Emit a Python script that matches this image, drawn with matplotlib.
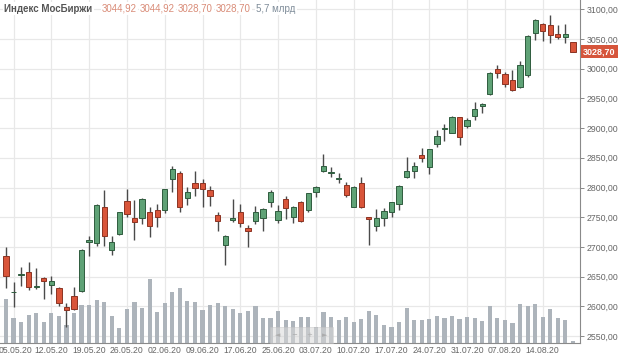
import matplotlib
matplotlib.use("Agg")
import matplotlib.pyplot as plt
from matplotlib.transforms import blended_transform_factory, ScaledTranslation
from matplotlib.patches import Rectangle
import numpy as np

plt.rcParams['font.family'] = ['Liberation Sans', 'DejaVu Sans']

# ---------------- data ----------------
opens = [2685, 2624, 2652, 2658, 2632, 2648, 2636, 2631, 2598, 2617,
         2625, 2708, 2707, 2768, 2694, 2722, 2778, 2748, 2748, 2759,
         2762, 2762, 2814, 2824, 2782, 2808, 2807, 2796, 2754, 2704,
         2745, 2758, 2732, 2744, 2748, 2776, 2745, 2781, 2750, 2775,
         2762, 2792, 2827, 2824, 2815, 2805, 2768, 2807, 2750, 2735,
         2748, 2759, 2773, 2818, 2827, 2855, 2835, 2873, 2899, 2892,
         2918, 2904, 2920, 2938, 2957, 2999, 2991, 2981, 2970, 2989,
         3060, 3075, 3074, 3058, 3053, 3044.92]
highs = [2700, 2641, 2666, 2674, 2665, 2650, 2651, 2633, 2606, 2633,
         2696, 2719, 2772, 2795, 2718, 2759, 2797, 2779, 2782, 2767,
         2773, 2797, 2836, 2827, 2801, 2827, 2814, 2803, 2759, 2720,
         2780, 2772, 2737, 2769, 2765, 2795, 2770, 2785, 2769, 2777,
         2791, 2803, 2856, 2835, 2824, 2810, 2803, 2818, 2750, 2763,
         2765, 2776, 2804, 2851, 2843, 2866, 2864, 2897, 2907, 2920,
         2919, 2917, 2944, 2942, 2995, 3006, 2994, 2998, 3013, 3056,
         3083, 3077, 3090, 3074, 3075, 3044.92]
lows = [2630, 2599, 2634, 2627, 2629, 2613, 2621, 2600, 2565, 2594,
        2624, 2685, 2701, 2702, 2686, 2720, 2751, 2712, 2739, 2716,
        2733, 2757, 2793, 2758, 2771, 2785, 2767, 2769, 2726, 2670,
        2742, 2734, 2700, 2739, 2726, 2767, 2741, 2747, 2740, 2742,
        2759, 2784, 2826, 2817, 2808, 2784, 2767, 2765, 2703, 2726,
        2735, 2751, 2762, 2816, 2816, 2843, 2823, 2869, 2878, 2891,
        2872, 2901, 2914, 2925, 2955, 2984, 2969, 2963, 2968, 2986,
        3049, 3047, 3043, 3050, 3043, 3028.70]
closes = [2651, 2624, 2655, 2633, 2634, 2643, 2643, 2606, 2594, 2595,
          2695, 2712, 2771, 2718, 2709, 2758, 2755, 2742, 2780, 2735,
          2751, 2797, 2832, 2768, 2793, 2799, 2798, 2786, 2744, 2718,
          2748, 2741, 2727, 2759, 2763, 2793, 2760, 2765, 2768, 2744,
          2790, 2801, 2836, 2826, 2816, 2787, 2801, 2768, 2747, 2748,
          2761, 2775, 2803, 2827, 2836, 2850, 2864, 2887, 2900, 2919,
          2885, 2913, 2932, 2940, 2993, 2992, 2975, 2964, 3006, 3055,
          3082, 3064, 3057, 3053, 3058, 3028.70]
# volume, bn RUB
volumes = [144, 83, 68, 92, 98, 70, 98, 90, 59, 98,
           125, 125, 142, 136, 90, 50, 111, 136, 116, 210,
           103, 133, 169, 182, 140, 134, 109, 125, 133, 121,
           112, 98, 106, 122, 83, 83, 106, 76, 74, 85,
           85, 54, 101, 85, 76, 87, 70, 79, 107, 92,
           59, 54, 69, 114, 76, 76, 80, 90, 83, 90,
           80, 86, 83, 73, 122, 82, 76, 65, 129, 122,
           128, 87, 112, 82, 76, 5.7]
tick_labels = ["05.05.20", "12.05.20", "19.05.20", "26.05.20", "02.06.20",
               "09.06.20", "17.06.20", "25.06.20", "03.07.20", "10.07.20",
               "17.07.20", "24.07.20", "31.07.20", "07.08.20", "14.08.20"]
price_ticks = [2550, 2600, 2650, 2700, 2750, 2800, 2850, 2900, 2950, 3000, 3050, 3100]
title = "Индекс МосБиржи"
volume_unit = "млрд"

# ---------------- styling ----------------
GREEN = "#5fa276"
GREEN_EDGE = "#2f5c3e"
RED = "#d9553a"
RED_EDGE = "#8c3322"
WICK = "#4a4a4a"
VOL = "#adb4bb"
GRID = "#e8e8e8"
TXT = "#666666"

W, H = 620, 355
fig = plt.figure(figsize=(W / 100, H / 100), dpi=100)
ax = fig.add_axes([0, 12 / H, 580 / W, 343 / H])

o = np.array(opens, float)
h = np.array(highs, float)
l = np.array(lows, float)
c = np.array(closes, float)
v = np.array(volumes, float)
idx = np.arange(len(o))

# grid
tick_pos = 1 + 5 * np.arange(len(tick_labels))
for tp in tick_pos:
    ax.axvline(tp, color=GRID, lw=0.9, zorder=0)
for pt in price_ticks:
    ax.axhline(pt, color=GRID, lw=0.9, zorder=0)

# volume bars (bottom of the axes, own scale)
VMAX = 1132.0
trans = blended_transform_factory(ax.transData, ax.transAxes)
ax.bar(idx, v / VMAX, width=0.55, bottom=0, color=VOL, transform=trans,
       zorder=1, linewidth=0)

# candles
up = c >= o
body_bot = np.minimum(o, c)
body_h = np.maximum(np.abs(c - o), 0.6)
ax.vlines(idx, l, h, color=WICK, lw=1.0, zorder=2)
ax.bar(idx[up], body_h[up], bottom=body_bot[up], width=0.7,
       color=GREEN, edgecolor=GREEN_EDGE, linewidth=0.7, zorder=3)
ax.bar(idx[~up], body_h[~up], bottom=body_bot[~up], width=0.7,
       color=RED, edgecolor=RED_EDGE, linewidth=0.7, zorder=3)

ax.set_xlim(-0.79, 75.93)
ax.set_ylim(2538.2, 3115.7)

# axes cosmetics
for s in ["top", "left"]:
    ax.spines[s].set_visible(False)
for s in ["right", "bottom"]:
    ax.spines[s].set_color("#8a8a8a")
    ax.spines[s].set_linewidth(0.8)
ax.yaxis.tick_right()
ax.set_yticks(price_ticks)
ax.set_yticklabels([f"{p:.2f}".replace(".", ",") for p in price_ticks])
ax.set_xticks(tick_pos)
ax.set_xticklabels(tick_labels)
ax.tick_params(axis="y", length=3, width=0.7, color="#8a8a8a", pad=2,
               labelsize=6.3, labelcolor=TXT)
ax.tick_params(axis="x", length=0, pad=2, labelsize=6.2, labelcolor=TXT)
# nudge the first date label so it stays inside the picture
first = ax.get_xticklabels()[0]
first.set_transform(first.get_transform() + ScaledTranslation(2 / 100, 0, fig.dpi_scale_trans))

# header
def fmt(x):
    return f"{x:.2f}".replace(".", ",")

ty = 1 - 8.5 / H
fig.text(4 / W, ty, title, fontsize=7, fontweight="bold", color="#555555",
         va="center", ha="left",
         bbox=dict(boxstyle="square,pad=0.15", fc="white", ec="none"))
header_vals = [o[-1], h[-1], l[-1], c[-1]]
xs = [102, 140, 178, 216]
for xv, val in zip(xs, header_vals):
    fig.text(xv / W, ty, fmt(val), fontsize=7, color="#d98c78",
             va="center", ha="left",
             bbox=dict(boxstyle="square,pad=0.15", fc="white", ec="none"))
fig.text(256 / W, ty, f"{v[-1]:.1f}".replace(".", ",") + " " + volume_unit,
         fontsize=7, color="#7f8c99", va="center", ha="left",
         bbox=dict(boxstyle="square,pad=0.15", fc="white", ec="none"))

# last price label
ytr = blended_transform_factory(fig.transFigure, ax.transData)
ax.text(583 / W, c[-1], fmt(c[-1]), transform=ytr, fontsize=6.5,
        fontweight="bold", color="white", va="center", ha="left",
        bbox=dict(boxstyle="square,pad=0.25", fc="#d6553b", ec="none"),
        zorder=10, clip_on=False)

# navigation widget
nav = Rectangle((270 / W, 12 / H), 63 / W, 16 / H, transform=fig.transFigure,
                fc="#d9d9d9", ec="#c4c4c4", lw=0.6, alpha=0.55, zorder=5)
fig.patches.append(nav)
for sx, sym in zip([278, 294, 309, 325], ["◄", "−", "+", "►"]):
    fig.text(sx / W, 20 / H, sym, fontsize=5, color="#777777",
             ha="center", va="center", family=["DejaVu Sans"])

fig.savefig("out.png", dpi=100)
